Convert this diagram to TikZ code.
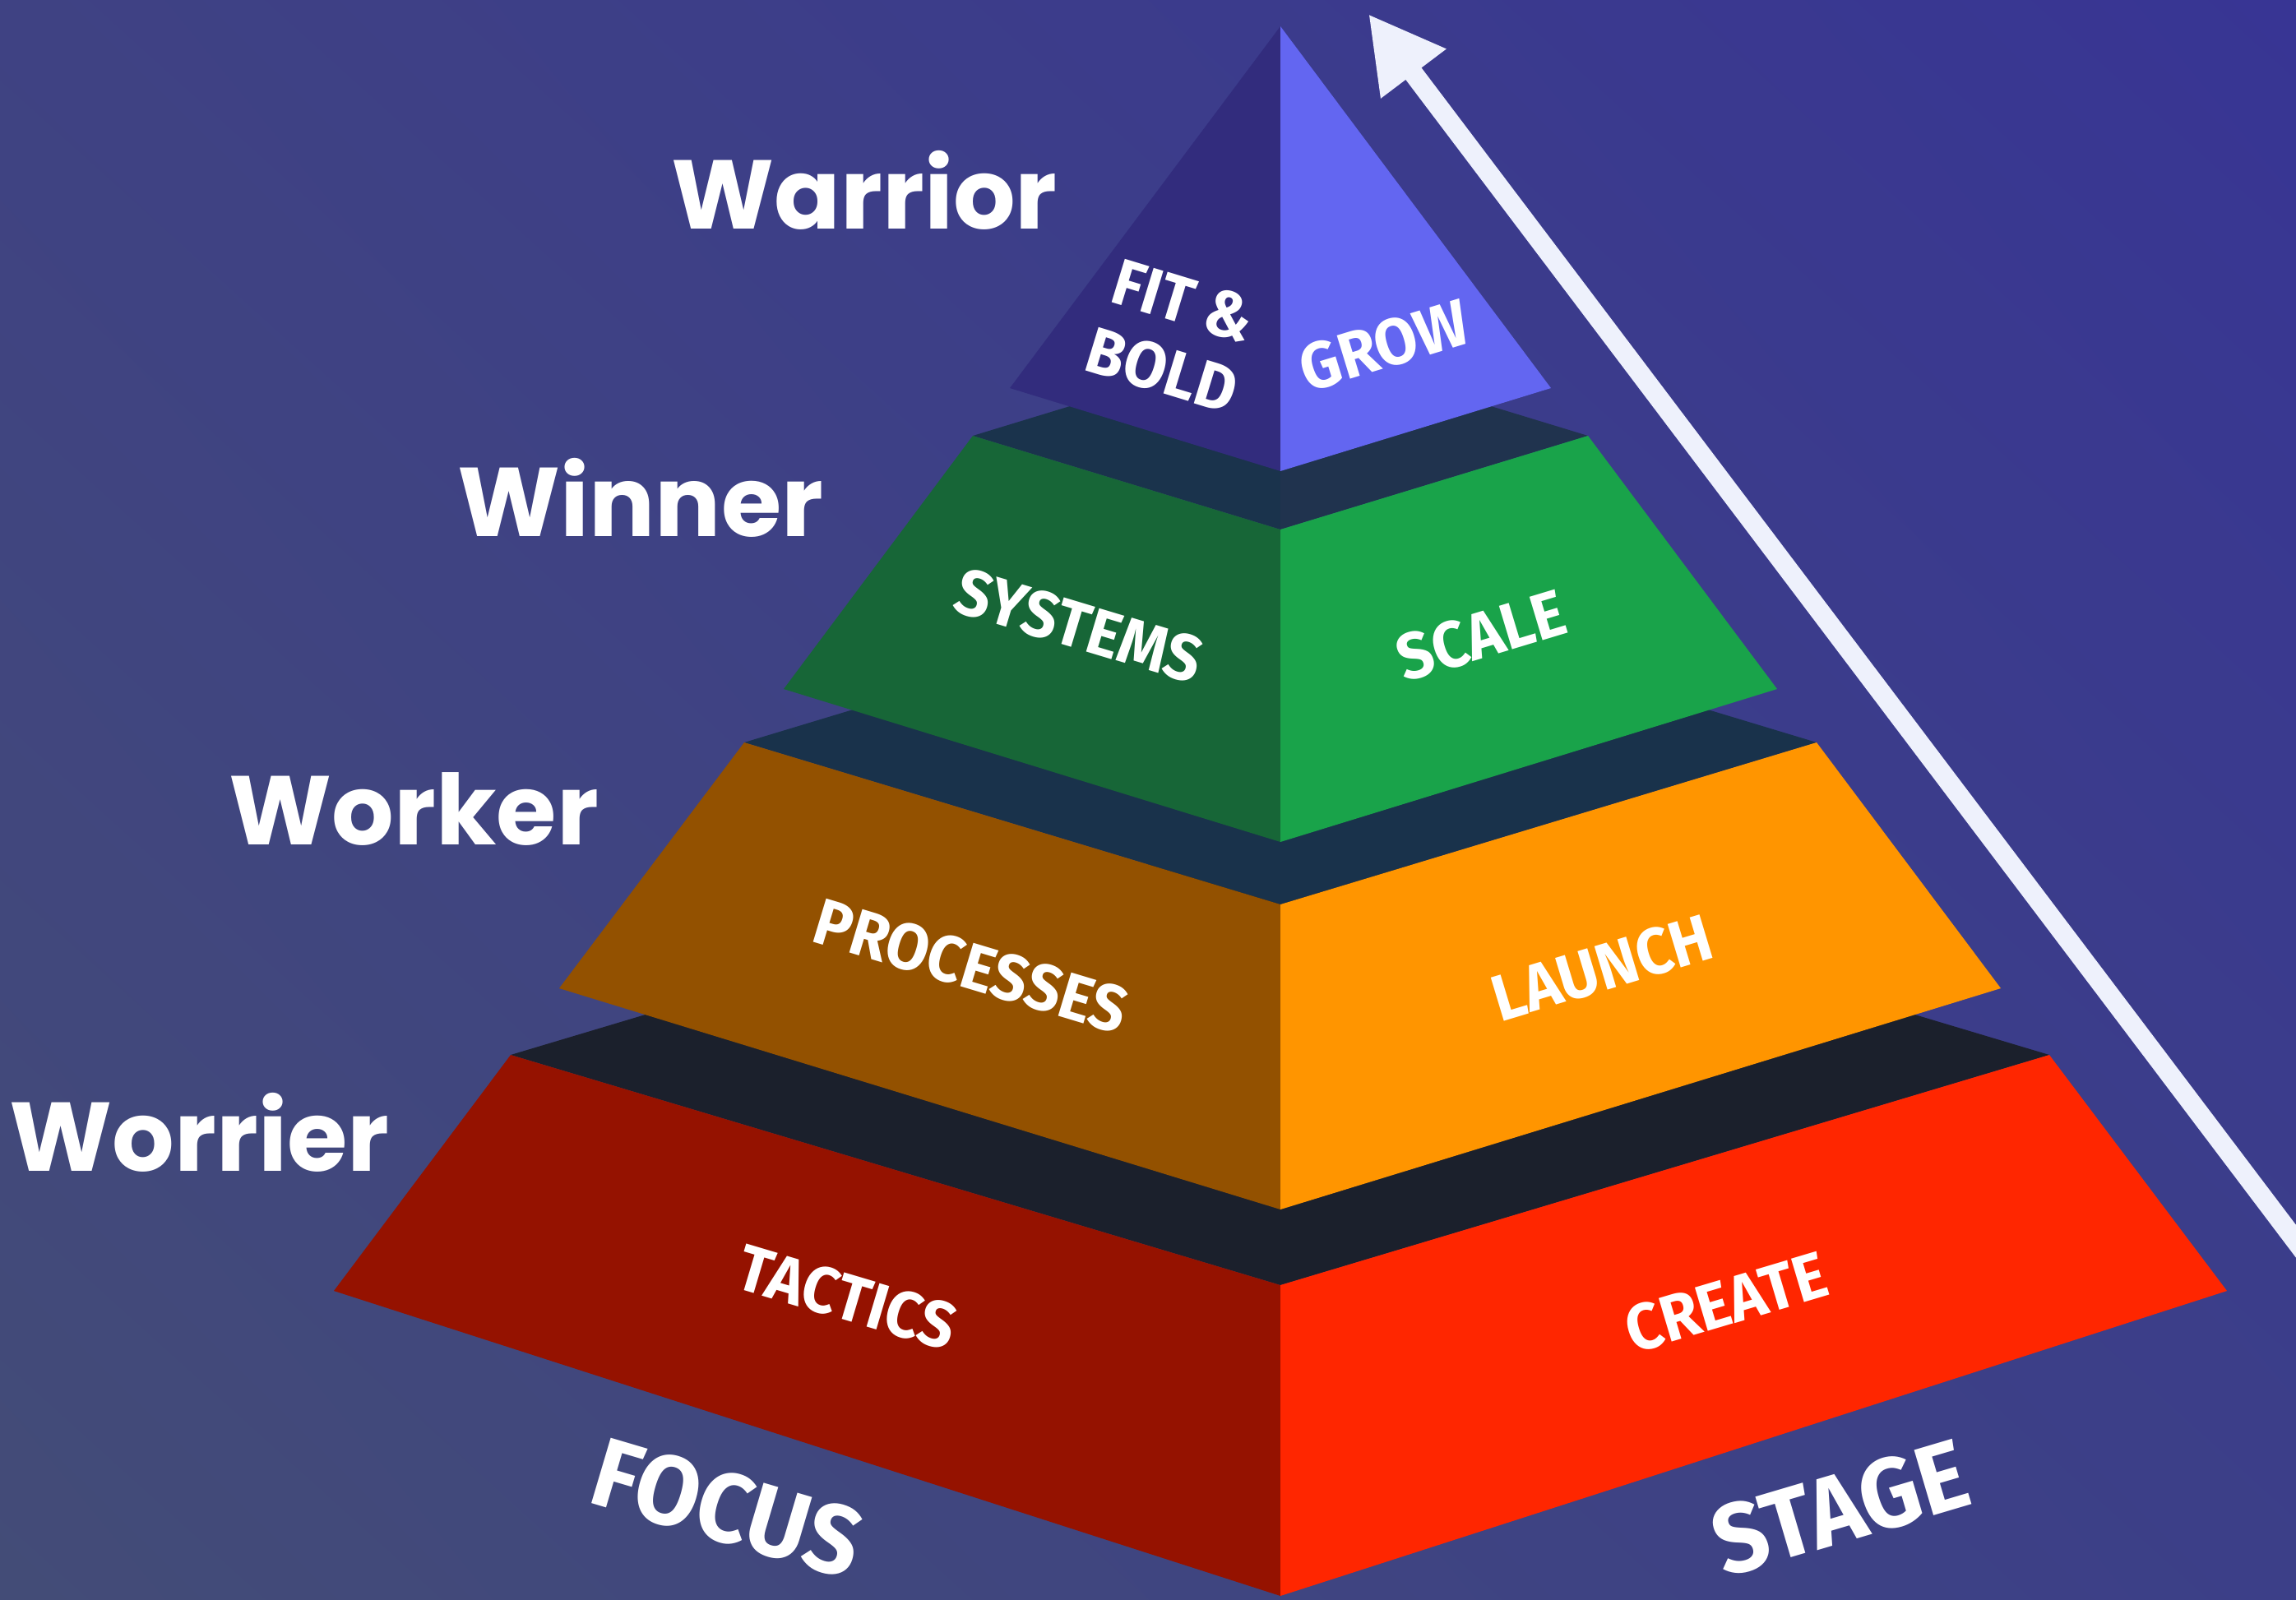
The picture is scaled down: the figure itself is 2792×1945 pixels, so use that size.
\documentclass[tikz,border=0pt]{standalone}
\usepackage{fontspec}
\usepackage{xcolor}
\usepackage{tikz}
\usetikzlibrary{arrows.meta,shadings}
\newfontfamily\levelfont{Poppins}
\newfontfamily\tierfont{Fira Sans}[FakeStretch=0.95]
\definecolor{bgtl}{HTML}{3F4283}
\definecolor{bgtr}{HTML}{383594}
\definecolor{bgbl}{HTML}{434C77}
\definecolor{bgbr}{HTML}{3C3F88}
\definecolor{peakleft}{HTML}{322C7D}
\definecolor{peakright}{HTML}{6366F1}
\definecolor{greentopl}{HTML}{1A334C}
\definecolor{greentopr}{HTML}{20334E}
\definecolor{greenleft}{HTML}{176637}
\definecolor{greenright}{HTML}{19A34A}
\definecolor{orangetop}{HTML}{19324B}
\definecolor{orangeleft}{HTML}{935100}
\definecolor{orangeright}{HTML}{FF9500}
\definecolor{redtop}{HTML}{1B202C}
\definecolor{redleft}{HTML}{951200}
\definecolor{redright}{HTML}{FF2600}
\definecolor{arrowwhite}{HTML}{EEF1FC}
\tikzset{
  levellabel/.style={
    anchor=base west, inner sep=0pt, text=white,
    font=\levelfont\bfseries\fontsize{33.8pt}{36pt}\selectfont
  },
  tiertext/.style={
    inner sep=0pt, text=white, align=center, rotate=#1,
    font=\tierfont\bfseries\fontsize{22.6pt}{25pt}\selectfont
  },
  tiertext/.default=0,
  basetext/.style={
    tiertext=#1, font=\tierfont\bfseries\fontsize{34pt}{38pt}\selectfont
  },
  risearrow/.style={draw=arrowwhite, line width=0.24cm,
    -{Triangle[length=0.91cm,width=0.93cm]}}
}
\begin{document}
\begin{tikzpicture}[x=0.01cm, y=-0.01cm]
\useasboundingbox (0,0) rectangle (2792,1945);
\shade[upper left=bgtl, upper right=bgtr, lower left=bgbl, lower right=bgbr]
  (0,0) rectangle (2792,1945);

% bottom tier
\fill[redtop] (621,1283) -- (1557,1003) -- (2492,1283) -- (1557,1563) -- cycle;
\fill[redleft] (621,1283) -- (1557,1563) -- (1557,1941) -- (406,1570) -- cycle;
\fill[redright] (1557,1563) -- (2492,1283) -- (2708,1570) -- (1557,1941) -- cycle;

% third tier
\fill[orangetop] (905,903) -- (1557,706) -- (2209,903) -- (1557,1100) -- cycle;
\fill[orangeleft] (905,903) -- (1557,1100) -- (1557,1471) -- (680,1202) -- cycle;
\fill[orangeright] (1557,1100) -- (2209,903) -- (2433,1202) -- (1557,1471) -- cycle;

% second tier
\fill[greentopl] (1183,530) -- (1557,416) -- (1557,644) -- cycle;
\fill[greentopr] (1557,416) -- (1931,530) -- (1557,644) -- cycle;
\fill[greenleft] (1183,530) -- (1557,644) -- (1557,1024) -- (953,838) -- cycle;
\fill[greenright] (1557,644) -- (1931,530) -- (2161,838) -- (1557,1024) -- cycle;

% peak
\fill[peakleft] (1557,32) -- (1557,573) -- (1228,472) -- cycle;
\fill[peakright] (1557,32) -- (1886,472) -- (1557,573) -- cycle;

\node[levellabel] (warrior) at (816,278) {Warrior};
\node[levellabel] (winner) at (556,652) {Winner};
\node[levellabel] (worker) at (278,1027) {Worker};
\node[levellabel] (worrier) at (11,1424) {Worrier};

\node[tiertext=-17] (fitbold) at (1426,408) {FIT \&\\BOLD};
\node[tiertext=17] (grow) at (1683,420) {GROW};
\node[tiertext=-16.8] (systems) at (1312,761) {SYSTEMS};
\node[tiertext=16.8] (scale) at (1801,773) {SCALE};
\node[tiertext=-16.8] (processes) at (1181,1175) {PROCESSES};
\node[tiertext=16.8] (launch) at (1948,1177) {LAUNCH};
\node[tiertext=-16.6] (tactics) at (1030,1578) {TACTICS};
\node[tiertext=16.6] (create) at (2099,1584) {CREATE};
\node[basetext=-16.5] (focus) at (884,1834) {FOCUS};
\node[basetext=16.5] (stage) at (2238,1834) {STAGE};

\coordinate (risebase) at (2870,1613);
\coordinate (risetip) at (1664,17);
\draw[risearrow] (risebase) -- (risetip);
\end{tikzpicture}
\end{document}
